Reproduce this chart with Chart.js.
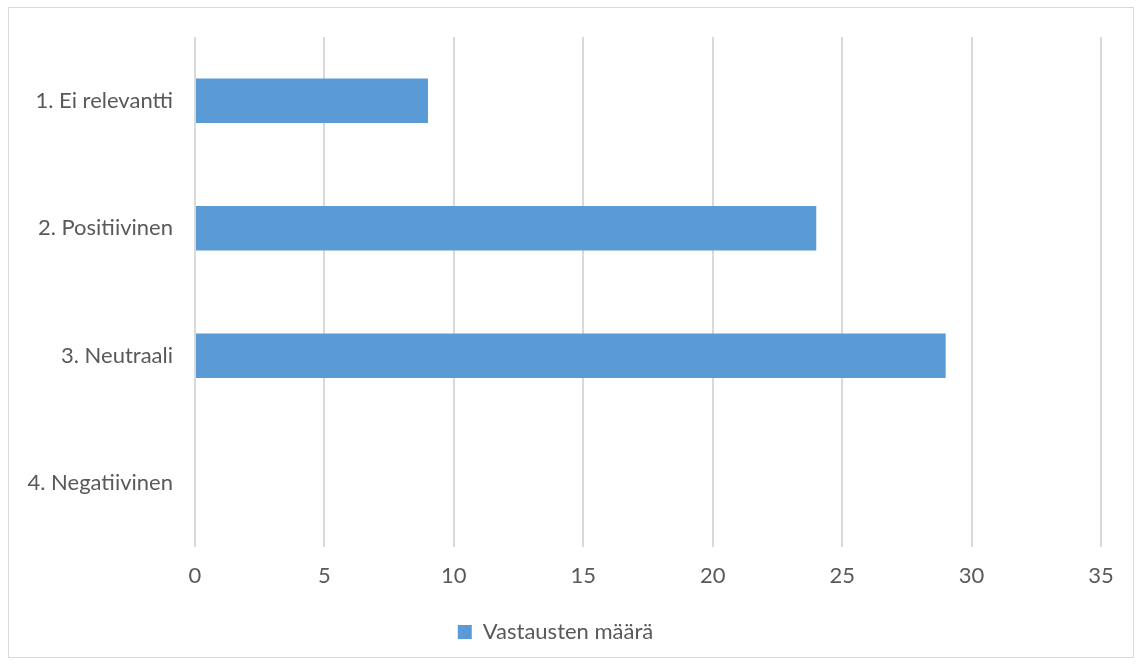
<!DOCTYPE html>
<html>
<head>
<meta charset="utf-8">
<script src="https://cdn.jsdelivr.net/npm/chart.js@4"></script>
<style>
  html, body { margin: 0; padding: 0; background: #fff; }
  #wrap { position: relative; width: 1141px; height: 664px; }
  #frame {
    position: absolute; left: 8px; top: 7px; width: 1124px; height: 649px;
    border: 1px solid #d9d9d9;
  }
  #chart { position: absolute; left: 0; top: 0; }
</style>
</head>
<body>
<div id="wrap">
  <div id="frame"></div>
  <canvas id="chart" width="1141" height="664"></canvas>
</div>
<script>
// Answer categories and counts
const categories = ["1. Ei relevantti", "2. Positiivinen", "3. Neutraali", "4. Negatiivinen"];
const answerCounts = [9, 24, 29, 0];
const seriesLabel = "Vastausten määrä";
const axisMax = 35;
const axisStep = 5;

const textColor = "#595959";
const barColor = "#5b9bd5";
const fontFamily = "Lato, 'Open Sans', sans-serif";

const ctx = document.getElementById("chart").getContext("2d");

new Chart(ctx, {
  type: "bar",
  data: {
    labels: categories,
    datasets: [
      {
        label: seriesLabel,
        data: answerCounts,
        backgroundColor: barColor,
        borderWidth: 0,
        barPercentage: 0.35,
        categoryPercentage: 1.0,
      },
    ],
  },
  options: {
    indexAxis: "y",
    responsive: false,
    animation: false,
    layout: {
      padding: { left: 10, top: 37, right: 40, bottom: 11 },
    },
    plugins: {
      tooltip: { enabled: false },
      legend: {
        position: "bottom",
        labels: {
          color: textColor,
          font: { family: fontFamily, size: 22 },
          boxWidth: 14,
          boxHeight: 14,
          padding: 8,
        },
      },
    },
    scales: {
      x: {
        min: 0,
        max: axisMax,
        ticks: {
          stepSize: axisStep,
          color: textColor,
          font: { family: fontFamily, size: 22 },
          padding: 16,
        },
        grid: {
          color: "#d9d9d9",
          lineWidth: 2,
          drawTicks: false,
        },
        border: { display: false },
        afterFit: function (scale) {
          scale.height = 66;
        },
      },
      y: {
        ticks: {
          color: textColor,
          font: { family: fontFamily, size: 22 },
          padding: 22,
        },
        grid: { display: false, drawTicks: false },
        border: { display: false },
        afterFit: function (scale) {
          scale.width = 185;
        },
      },
    },
  },
});
</script>
</body>
</html>
